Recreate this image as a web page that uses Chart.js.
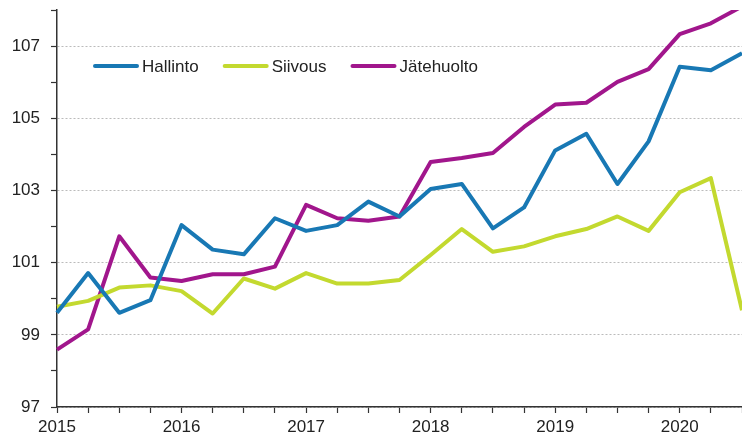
<!DOCTYPE html>
<html>
<head>
<meta charset="utf-8">
<script src="https://cdn.jsdelivr.net/npm/chart.js@4/dist/chart.umd.min.js"></script>
<style>
  html, body { margin: 0; padding: 0; background: #fff; }
  .wrap { width: 742px; height: 445px; position: relative; }
</style>
</head>
<body>
<div class="wrap"><canvas id="chart"></canvas></div>
<script>
// quarterly, 2015 Q1 .. 2020 Q3
const years = ['2015', '2016', '2017', '2018', '2019', '2020'];
const quarters = ['I', 'II', 'III', 'IV'];
const labels = [];
years.forEach(y => quarters.forEach(q => labels.push(y + ' ' + q)));
labels.length = 23;

const hallinto = [99.61, 100.71, 99.61, 99.96, 102.04, 101.36, 101.23, 102.23,
  101.88, 102.04, 102.69, 102.28, 103.04, 103.18, 101.95, 102.53,
  104.11, 104.57, 103.18, 104.36, 106.43, 106.33, 106.8];
const siivous = [99.78, 99.94, 100.31, 100.37, 100.21, 99.59, 100.56, 100.28,
  100.71, 100.42, 100.42, 100.52, 101.21, 101.93, 101.30, 101.45,
  101.73, 101.93, 102.28, 101.88, 102.95, 103.34, 99.68];
const jatehuolto = [98.59, 99.15, 101.73, 100.59, 100.49, 100.68, 100.68, 100.89,
  102.60, 102.23, 102.16, 102.28, 103.79, 103.90, 104.04, 104.76,
  105.38, 105.43, 106.01, 106.36, 107.33, 107.63, 108.1];

const font = { family: 'Liberation Sans, Arial, sans-serif', size: 17 };
const axisColor = '#333';

// legend drawn inside the plot area, top left
const innerLegend = {
  id: 'innerLegend',
  afterDatasetsDraw(chart) {
    const ctx = chart.ctx;
    let x = 93;
    const y = 66;
    ctx.save();
    ctx.font = `${font.size}px ${font.family}`;
    ctx.textBaseline = 'middle';
    chart.data.datasets.forEach(ds => {
      ctx.strokeStyle = ds.borderColor;
      ctx.lineWidth = 4;
      ctx.lineCap = 'round';
      ctx.beginPath();
      ctx.moveTo(x + 2, y);
      ctx.lineTo(x + 44, y);
      ctx.stroke();
      ctx.fillStyle = '#222';
      ctx.fillText(ds.label, x + 49, y + 1);
      x += 49 + ctx.measureText(ds.label).width + 24;
    });
    ctx.restore();
  }
};

// pin the plot area to the reference frame
const pinArea = {
  id: 'pinArea',
  afterLayout(chart) {
    const a = chart.chartArea;
    a.top = 10; a.bottom = 407; a.left = 57; a.right = 742;
    const x = chart.scales.x, y = chart.scales.y;
    x.left = 57; x.right = 742; x.width = 685;
    y.top = 10; y.bottom = 407; y.height = 397;
    x.configure(); y.configure();
    x.ticks.forEach(t => {});
  }
};

const line = (label, data, color) => ({
  label, data,
  borderColor: color,
  backgroundColor: color,
  borderWidth: 4,
  pointRadius: 0,
  tension: 0,
  borderJoinStyle: 'round',
  borderCapStyle: 'butt'
});

new Chart(document.getElementById('chart'), {
  type: 'line',
  data: {
    labels,
    datasets: [
      line('Hallinto', hallinto, '#1878b4'),
      line('Siivous', siivous, '#c3d92f'),
      line('Jätehuolto', jatehuolto, '#a1168c')
    ]
  },
  options: {
    responsive: true,
    maintainAspectRatio: false,
    animation: false,
    layout: { padding: 0 },
    plugins: { legend: { display: false }, tooltip: { enabled: false } },
    scales: {
      x: {
        offset: false,
        afterFit(scale) { scale.height = 38; },
        grid: {
          color: 'rgba(0,0,0,0)',
          tickColor: axisColor,
          tickLength: 6,
          tickWidth: 1.2
        },
        border: { color: axisColor, width: 1.5 },
        ticks: {
          autoSkip: false,
          maxRotation: 0,
          padding: 4,
          color: '#222',
          font,
          callback: (v, i) => i % 4 === 0 ? labels[i].slice(0, 4) : ''
        }
      },
      y: {
        min: 97,
        max: 108,
        afterFit(scale) { scale.width = 57; },
        grid: {
          color: c => (c.tick && c.tick.value % 2 === 1 && c.tick.value < 108) ? '#bbb' : 'rgba(0,0,0,0)',
          lineWidth: 1,
          tickColor: axisColor,
          tickLength: 6,
          tickWidth: 1.2
        },
        border: { color: axisColor, width: 1.5, dash: [2, 2] },
        ticks: {
          stepSize: 1,
          padding: 11,
          color: '#222',
          font,
          callback: v => v % 2 === 1 && v < 108 ? v : ''
        }
      }
    }
  },
  plugins: [pinArea, innerLegend]
});
</script>
</body>
</html>
